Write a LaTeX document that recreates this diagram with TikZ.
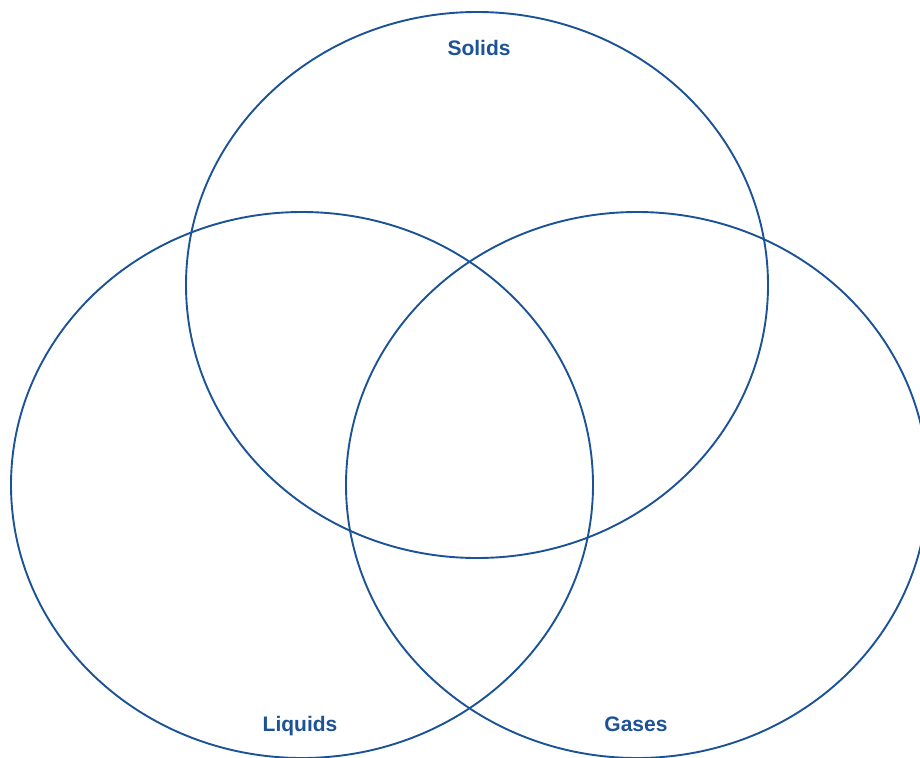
\documentclass[tikz,border=0pt]{standalone}
\usepackage{fontspec}
\setsansfont{Liberation Sans}
\usepackage{tikz}
\usetikzlibrary{positioning}
\definecolor{vennblue}{RGB}{28, 82, 150}

\begin{document}
\begin{tikzpicture}[x=1pt, y=-1pt,
    ring/.style={draw=vennblue, line width=1.9pt},
    setlabel/.style={text=vennblue, anchor=base, font=\sffamily\bfseries\fontsize{21}{24}\selectfont, inner sep=0pt}]
  \useasboundingbox (0, 0) rectangle (920, 757);
  \clip (0, 0) rectangle (920, 757);

  % three sets
  \draw[ring] (477, 285) ellipse [x radius=291, y radius=273];
  \draw[ring] (302, 485) ellipse [x radius=291, y radius=273];
  \draw[ring] (637, 485) ellipse [x radius=291, y radius=273];

  \node[setlabel] (solids)  at (479, 56)    {Solids};
  \node[setlabel] (liquids) at (300, 731.5) {Liquids};
  \node[setlabel] (gases)   at (636, 731.5) {Gases};
\end{tikzpicture}
\end{document}
